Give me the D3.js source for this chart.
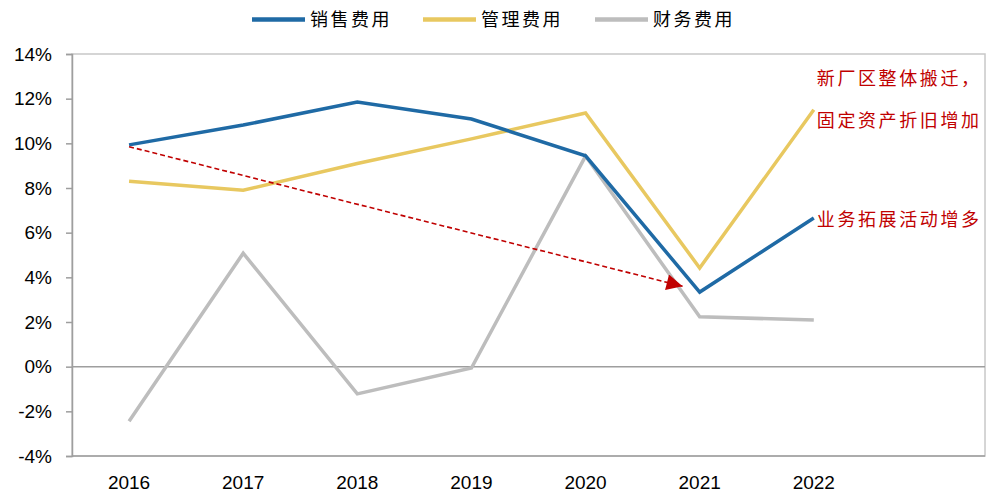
<!DOCTYPE html>
<html><head><meta charset="utf-8">
<script src="https://cdn.jsdelivr.net/npm/d3@7"></script>
<style>body{margin:0;background:#fff}svg{display:block}</style>
</head><body>
<svg id="c" width="1003" height="493"></svg>
<script>
const years = ["2016","2017","2018","2019","2020","2021","2022"];
const seriesNames = ["销售费用","管理费用","财务费用"];
const sales = [9.93, 10.82, 11.85, 11.09, 9.44, 3.34, 6.66];
const admin = [8.30, 7.90, 9.10, 10.20, 11.36, 4.42, 11.50];
const finance = [-2.44, 5.08, -1.22, -0.06, 9.43, 2.23, 2.09];
const yTicks = [-4, -2, 0, 2, 4, 6, 8, 10, 12, 14];
const colors = ["#1F6AA5", "#E8C860", "#BDBDBD"];
const arrowFrom = {i: 0, v: 9.85};
const arrowTo = {i: 4.85, v: 3.6};
const notes = [
  {text: "新厂区整体搬迁，", i: 6, v: 12.9},
  {text: "固定资产折旧增加", i: 6, v: 11.0},
  {text: "业务拓展活动增多", i: 6, v: 6.6}
];

const svg = d3.select("#c");
const W = 1003, H = 493;
const m = {l: 72, r: 18, t: 54, b: 37};
const x = d3.scaleBand().domain(years.concat([" "])).range([m.l, W - m.r]).padding(0);
const xc = i => m.l + x.bandwidth() * (i + 0.5);
const y = d3.scaleLinear().domain([-4, 14]).range([H - m.b, m.t]);

// plot border
svg.append("rect").attr("x", m.l).attr("y", m.t).attr("width", W - m.r - m.l).attr("height", H - m.b - m.t)
  .attr("fill", "none").attr("stroke", "#C8C8C8").attr("stroke-width", 1.5);

// y axis
const ya = svg.append("g").attr("transform", `translate(${m.l},0)`)
  .call(d3.axisLeft(y).tickValues(yTicks).tickSize(6).tickPadding(14).tickFormat(d => d + "%"));
ya.select(".domain").attr("stroke", "#9E9E9E").attr("stroke-width", 1.5);
ya.selectAll(".tick line").attr("stroke", "#9E9E9E").attr("stroke-width", 1.5);
ya.selectAll("text").attr("font-family", "Liberation Sans, Arial, sans-serif").attr("font-size", 19).attr("fill", "#000");

// bottom line and zero line
svg.append("line").attr("x1", m.l).attr("x2", W - m.r).attr("y1", y(-4)).attr("y2", y(-4))
  .attr("stroke", "#9E9E9E").attr("stroke-width", 1.5);
svg.append("line").attr("x1", m.l).attr("x2", W - m.r).attr("y1", y(0)).attr("y2", y(0))
  .attr("stroke", "#9E9E9E").attr("stroke-width", 1.5);

// x labels
const xa = svg.append("g").attr("transform", `translate(0,${H - m.b})`)
  .call(d3.axisBottom(x).tickValues(years).tickSize(0).tickPadding(20));
xa.select(".domain").remove();
xa.selectAll("text").attr("font-family", "Liberation Sans, Arial, sans-serif").attr("font-size", 19).attr("fill", "#000");

// lines
const line = d3.line().x((d, i) => xc(i)).y(d => y(d));
[finance, admin, sales].forEach((s, k) => {
  const idx = [2, 1, 0][k];
  svg.append("path").datum(s).attr("d", line).attr("fill", "none")
    .attr("stroke", colors[idx]).attr("stroke-width", 3.5).attr("stroke-linejoin", "miter");
});

// arrow
svg.append("defs").append("marker").attr("id", "ah").attr("viewBox", "0 0 10 10")
  .attr("refX", 10).attr("refY", 5).attr("markerWidth", 19).attr("markerHeight", 16)
  .attr("markerUnits", "userSpaceOnUse").attr("orient", "auto")
  .append("path").attr("d", "M0,0 L10,5 L0,10 Z").attr("fill", "#C00000");
svg.append("line").attr("x1", xc(arrowFrom.i)).attr("y1", y(arrowFrom.v))
  .attr("x2", xc(arrowTo.i)).attr("y2", y(arrowTo.v))
  .attr("stroke", "#C00000").attr("stroke-width", 1.6).attr("stroke-dasharray", "5,3")
  .attr("marker-end", "url(#ah)");

// notes
notes.forEach(n => {
  svg.append("text").attr("x", xc(n.i) + 3).attr("y", y(n.v)).attr("dy", "0.35em")
    .attr("font-family", "Noto Sans CJK SC, sans-serif").attr("font-size", 18)
    .attr("letter-spacing", 2.6).attr("fill", "#C00000").text(n.text);
});

// legend
const legX = [252, 423, 595];
seriesNames.forEach((nm, i) => {
  const g = svg.append("g").attr("transform", `translate(${legX[i]},19.5)`);
  g.append("line").attr("x1", 0).attr("x2", 53).attr("y1", 0).attr("y2", 0)
    .attr("stroke", colors[i]).attr("stroke-width", 4.5);
  g.append("text").attr("x", 58).attr("y", 0).attr("dy", "0.36em")
    .attr("font-family", "Noto Sans CJK SC, sans-serif").attr("font-size", 18)
    .attr("letter-spacing", 2.5).attr("fill", "#000").text(nm);
});
</script>
</body></html>
